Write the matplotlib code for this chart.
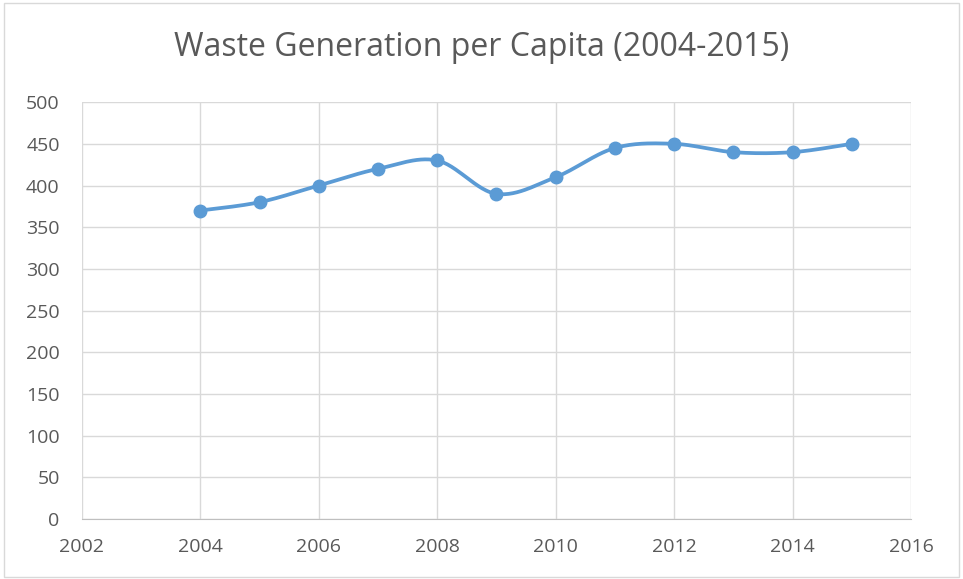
import numpy as np
import matplotlib
matplotlib.use("Agg")
import matplotlib.pyplot as plt
from matplotlib.patches import Rectangle

# ── data ──────────────────────────────────────────────────────────────────────
years = [2004, 2005, 2006, 2007, 2008, 2009, 2010, 2011, 2012, 2013, 2014, 2015]
waste = [370, 380, 400, 420, 430, 390, 410, 445, 450, 440, 440, 450]
x_ticks = [2002, 2004, 2006, 2008, 2010, 2012, 2014, 2016]
y_ticks = [0, 50, 100, 150, 200, 250, 300, 350, 400, 450, 500]

TITLE = "Waste Generation per Capita (2004-2015)"

LINE_COLOR = "#5B9BD5"
GRID_COLOR = "#D9D9D9"
TEXT_COLOR = "#595959"

plt.rcParams["font.family"] = ["Open Sans", "DejaVu Sans"]


def smooth(xs, ys, n=30):
    """Catmull-Rom curve through the points, like a spreadsheet's smoothed line."""
    p = np.column_stack([xs, ys]).astype(float)
    p = np.vstack([p[0], p, p[-1]])
    out = []
    for i in range(1, len(p) - 2):
        p0, p1, p2, p3 = p[i - 1], p[i], p[i + 1], p[i + 2]
        c1 = p1 + (p2 - p0) / 6.0
        c2 = p2 - (p3 - p1) / 6.0
        t = np.linspace(0, 1, n)[:, None]
        seg = ((1 - t) ** 3 * p1 + 3 * (1 - t) ** 2 * t * c1
               + 3 * (1 - t) * t ** 2 * c2 + t ** 3 * p2)
        out.append(seg if i == 1 else seg[1:])
    out = np.vstack(out)
    return out[:, 0], out[:, 1]


fig = plt.figure(figsize=(9.63, 5.79), dpi=100)
fig.patches.append(Rectangle((0.004, 0.004), 0.992, 0.99, transform=fig.transFigure,
                             fill=False, edgecolor="#D9D9D9", lw=1))
ax = fig.add_axes([0.085, 0.1036, 0.861, 0.72])

sx, sy = smooth(years, waste)
ax.plot(sx, sy, color=LINE_COLOR, lw=2.7, solid_capstyle="round", zorder=3)
ax.plot(years, waste, "o", color=LINE_COLOR, ms=9, zorder=4)

ax.set_xlim(2002, 2016)
ax.set_ylim(0, 500)
ax.set_xticks(x_ticks)
ax.set_yticks(y_ticks)
ax.grid(True, color=GRID_COLOR, lw=1)
ax.set_axisbelow(True)

for side in ("top", "right", "left"):
    ax.spines[side].set_visible(False)
ax.spines["bottom"].set_color("#BFBFBF")
ax.tick_params(length=0, labelsize=14, colors=TEXT_COLOR)
ax.tick_params(axis="y", pad=16)
ax.tick_params(axis="x", pad=14)

fig.text(0.5, 0.918, TITLE, ha="center", va="center", fontsize=23, color=TEXT_COLOR)

fig.savefig("out.png", dpi=100)
